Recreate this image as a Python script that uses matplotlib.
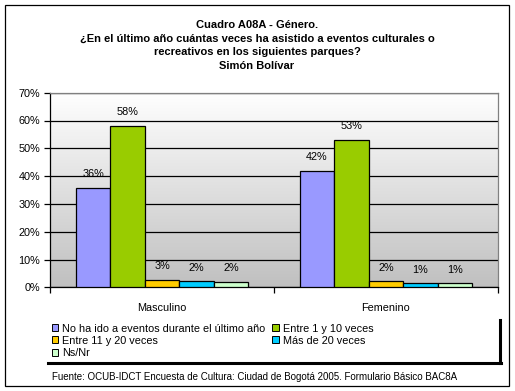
import numpy as np
import matplotlib
matplotlib.use("Agg")
import matplotlib.pyplot as plt
from matplotlib.colors import LinearSegmentedColormap
from matplotlib.patches import Patch, Rectangle
from matplotlib.lines import Line2D

plt.rcParams['font.family'] = ['Liberation Sans', 'DejaVu Sans']

categories = ['Masculino', 'Femenino']
series_names = ['No ha ido a eventos durante el último año', 'Entre 1 y 10 veces',
                'Entre 11 y 20 veces', 'Más de 20 veces', 'Ns/Nr']
series_colors = ['#9999ff', '#99cc00', '#ffcc00', '#00ccff', '#ccffcc']
# valores (%) por serie: [Masculino, Femenino]
no_ha_ido = [35.6, 41.9]
entre_1_10 = [58.1, 53.0]
entre_11_20 = [2.6, 2.1]
mas_de_20 = [2.1, 1.4]
ns_nr = [1.8, 1.4]
values = [no_ha_ido, entre_1_10, entre_11_20, mas_de_20, ns_nr]
yticks = [0, 10, 20, 30, 40, 50, 60, 70]

title = ('Cuadro A08A - Género.\n'
         '¿En el último año cuántas veces ha asistido a eventos culturales o\n'
         'recreativos en los siguientes parques?\n'
         'Simón Bolívar')
source = 'Fuente: OCUB-IDCT Encuesta de Cultura: Ciudad de Bogotá 2005. Formulario Básico BAC8A'

W, H = 515, 391
fig = plt.figure(figsize=(W / 100, H / 100), dpi=100)
ax = fig.add_axes([50 / W, 1 - 287.3 / H, 448 / W, 194.6 / H])

# fondo degradado del área de trazado
grad = LinearSegmentedColormap.from_list('g', ['#c0c0c0', '#ffffff'])
ax.imshow(np.linspace(0, 1, 256).reshape(-1, 1), cmap=grad, extent=[0, 1, 0, 1],
          transform=ax.transAxes, aspect='auto', origin='lower', zorder=0)

x = np.arange(len(categories))
bw = 0.154
handles = []
for i, (vals, col, name) in enumerate(zip(values, series_colors, series_names)):
    pos = x + (i - 2) * bw
    ax.bar(pos, vals, width=bw, color=col, edgecolor='black', linewidth=0.9, zorder=3)
    for p, v in zip(pos, vals):
        ax.text(p, v + 3.2, f'{round(v)}%', ha='center', va='bottom', fontsize=7.8, zorder=4)
    handles.append(Patch(facecolor=col, edgecolor='black', linewidth=0.7, label=name))

ax.set_xlim(-0.5, 1.5)
ax.set_ylim(0, 70)
ax.set_yticks(yticks)
ax.set_yticklabels([f'{t}%' for t in yticks], fontsize=7.8)
ax.yaxis.grid(True, color='black', linewidth=0.9, zorder=1)
ax.set_axisbelow(True)
ax.set_xticks(x)
ax.set_xticklabels(categories, fontsize=7.8)
ax.set_xticks([-0.5, 0.5, 1.5], minor=True)
ax.tick_params(axis='x', which='major', length=0, pad=11)
ax.tick_params(axis='x', which='minor', length=4, direction='out', width=0.9)
ax.tick_params(axis='y', length=4, direction='out', width=0.9, pad=3)
for s in ['left', 'bottom']:
    ax.spines[s].set_color('black')
    ax.spines[s].set_linewidth(0.9)
for s in ['top', 'right']:
    ax.spines[s].set_color('#808080')
    ax.spines[s].set_linewidth(0.9)

# título
fig.text(257 / W, 1 - 20 / H, title, ha='center', va='top', fontsize=8, fontweight='bold',
         linespacing=1.45)

# leyenda (orden por filas)
order = [0, 2, 4, 1, 3]
leg = fig.legend([handles[i] for i in order], [series_names[i] for i in order],
                 ncol=2, loc='upper left', bbox_to_anchor=(44 / W, 1 - 316 / H),
                 fontsize=7.8, frameon=False, handlelength=0.6, handleheight=0.6,
                 handletextpad=0.4, columnspacing=0.6, labelspacing=0.2,
                 borderpad=0.2)
# sombra de la leyenda
fig.add_artist(Line2D([499.5 / W, 499.5 / W], [1 - 320 / H, 1 - 363 / H], color='black',
                      linewidth=2.2))
fig.add_artist(Line2D([48 / W, 500.5 / W], [1 - 362.5 / H, 1 - 362.5 / H], color='black',
                      linewidth=2.2))

fig.text(52 / W, 1 - 377 / H, source, ha='left', va='center', fontsize=7)

# marco exterior
fig.add_artist(Rectangle((5 / W, 1 - 386 / H), 504 / W, 381 / H, transform=fig.transFigure,
                         fill=False, edgecolor='black', linewidth=0.9))

fig.savefig('out.png', dpi=100)
